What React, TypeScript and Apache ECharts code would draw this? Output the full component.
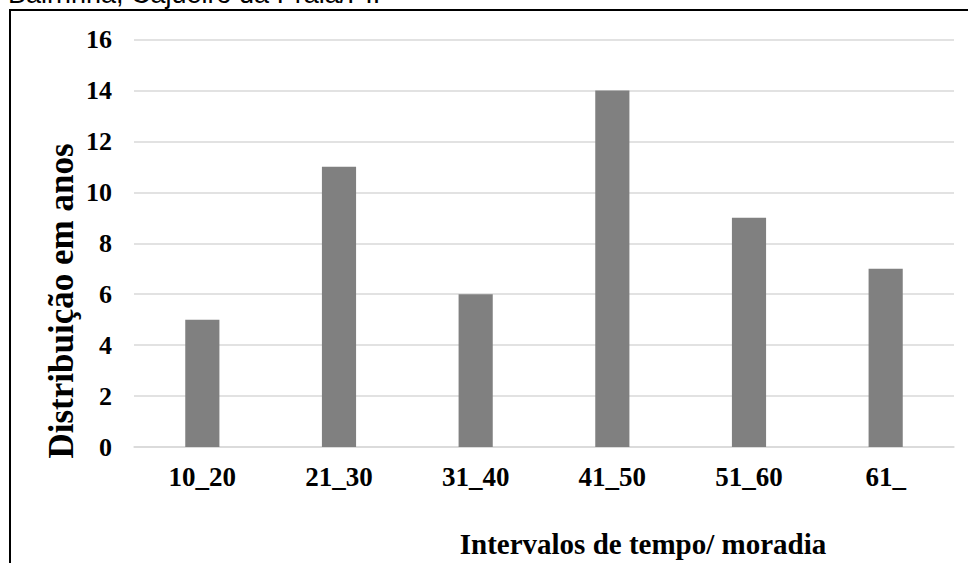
import React, { useEffect, useRef } from "react";
import * as echarts from "echarts";

const categories = ["10_20", "21_30", "31_40", "41_50", "51_60", "61_"];
const values = [5, 11, 6, 14, 9, 7];
const yTicks = { min: 0, max: 16, interval: 2 };
const caption = "Bairrinha, Cajueiro da Praia/PI.";
const xTitle = "Intervalos de tempo/ moradia";
const yTitle = "Distribuição em anos";

const serif = "'Liberation Serif', 'Times New Roman', serif";

export default function App() {
  const ref = useRef<HTMLDivElement>(null);
  useEffect(() => {
    if (!ref.current) return;
    const chart = echarts.init(ref.current, null, { renderer: "svg" });
    chart.setOption({
      animation: false,
      backgroundColor: "#ffffff",
      grid: { left: 134, right: 14, top: 39.5, bottom: 116 },
      xAxis: {
        type: "category",
        data: categories,
        axisLine: { show: true, lineStyle: { color: "#d9d9d9", width: 1.5 } },
        axisTick: { show: false },
        axisLabel: {
          margin: 16,
          color: "#000",
          fontFamily: serif,
          fontWeight: "bold",
          fontSize: 27,
        },
      },
      yAxis: {
        type: "value",
        min: yTicks.min,
        max: yTicks.max,
        interval: yTicks.interval,
        axisLine: { show: false },
        axisTick: { show: false },
        splitLine: { lineStyle: { color: "#d9d9d9", width: 1.5 } },
        axisLabel: {
          margin: 22,
          color: "#000",
          fontFamily: serif,
          fontWeight: "bold",
          fontSize: 26,
        },
      },
      series: [
        {
          type: "bar",
          data: values,
          barWidth: "25%",
          itemStyle: { color: "#808080" },
        },
      ],
      graphic: [
        {
          type: "rect",
          shape: { x: 10, y: 10, width: 1000, height: 600 },
          style: { fill: "none", stroke: "#000", lineWidth: 2 },
          z: 10,
        },
        {
          type: "text",
          x: 8,
          y: 7,
          style: {
            text: caption,
            fill: "#000",
            font: "27px 'Liberation Sans', Arial, sans-serif",
            textAlign: "left",
            textVerticalAlign: "bottom",
          },
        },
        {
          type: "text",
          x: 643,
          y: 544,
          style: {
            text: xTitle,
            fill: "#000",
            font: "bold 29px " + serif,
            textAlign: "center",
            textVerticalAlign: "middle",
          },
        },
        {
          type: "text",
          x: 61,
          y: 301,
          rotation: Math.PI / 2,
          style: {
            text: yTitle,
            fill: "#000",
            font: "bold 35px " + serif,
            textAlign: "center",
            textVerticalAlign: "middle",
          },
        },
      ],
    });
    return () => chart.dispose();
  }, []);
  return (
    <div
      ref={ref}
      style={{ position: "fixed", left: 0, top: 0, width: 968, height: 563 }}
    />
  );
}
